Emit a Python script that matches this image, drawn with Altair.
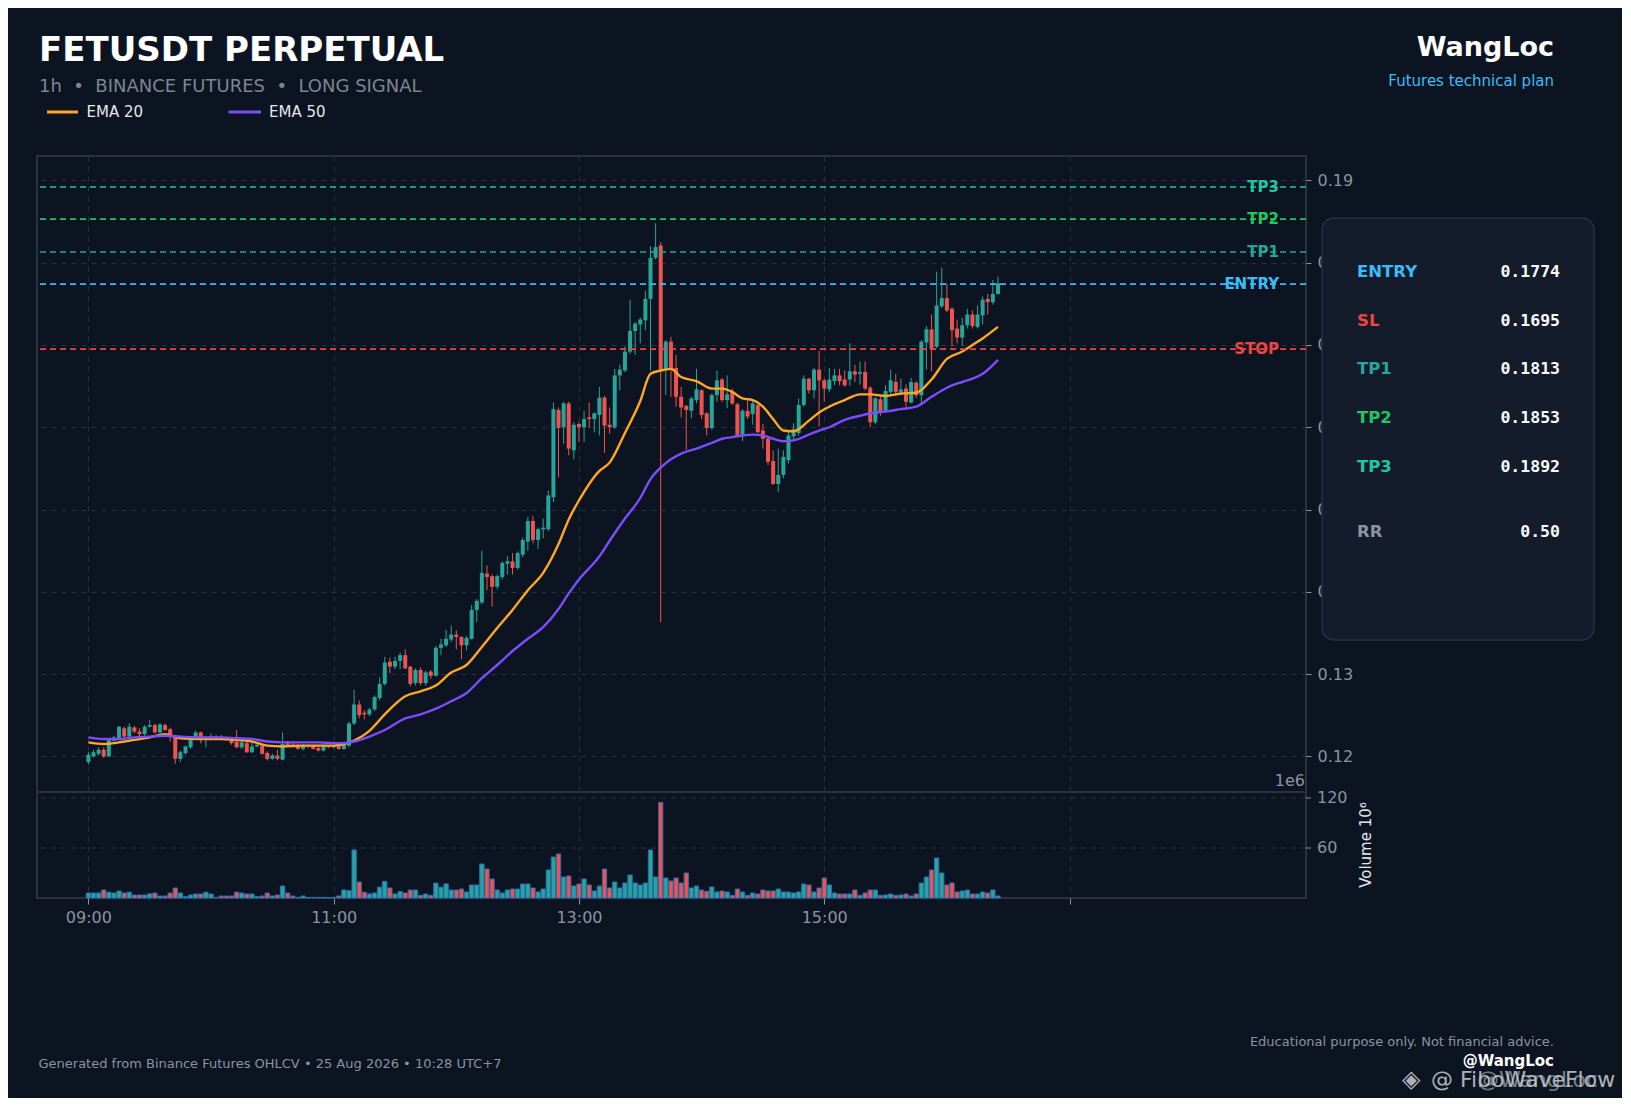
import altair as alt
import pandas as pd

# ---------------- data ----------------
OPEN = [
    .1193, .1200, .1203, .1208, .1200, .1219, .1222, .1234, .1224, .1235,
    .1230, .1227, .1236, .1238, .1229, .1238, .1233, .1225, .1197, .1204,
    .1211, .1222, .1229, .1220, .1222, .1224, .1223, .1223, .1222, .1218,
    .1211, .1216, .1205, .1212, .1213, .1204, .1197, .1201, .1196, .1216,
    .1214, .1213, .1209, .1213, .1213, .1210, .1207, .1212, .1211, .1212,
    .1209, .1213, .1240, .1263, .1253, .1251, .1257, .1271, .1288, .1315,
    .1309, .1316, .1323, .1309, .1289, .1305, .1289, .1303, .1298, .1332,
    .1335, .1342, .1348, .1345, .1335, .1343, .1378, .1387, .1422, .1419,
    .1406, .1418, .1434, .1437, .1429, .1445, .1461, .1486, .1463, .1476,
    .1476, .1515, .1621, .1600, .1629, .1572, .1604, .1600, .1612, .1610,
    .1615, .1636, .1603, .1600, .1663, .1669, .1692, .1717, .1725, .1730,
    .1756, .1806, .1821, .1670, .1704, .1672, .1637, .1626, .1620, .1633,
    .1645, .1617, .1599, .1639, .1658, .1633, .1643, .1628, .1591, .1620,
    .1616, .1627, .1596, .1586, .1559, .1531, .1542, .1560, .1589, .1593,
    .1627, .1659, .1645, .1670, .1657, .1646, .1656, .1663, .1658, .1658,
    .1668, .1665, .1667, .1648, .1606, .1634, .1620, .1643, .1655, .1643,
    .1647, .1630, .1654, .1639, .1703, .1719, .1698, .1747, .1757, .1744,
    .1720, .1709, .1724, .1737, .1722, .1736, .1756, .1752, .1762,
]
HIGH = [
    .1205, .1208, .1211, .1211, .1222, .1225, .1237, .1236, .1240, .1237,
    .1234, .1238, .1244, .1240, .1240, .1240, .1235, .1226, .1207, .1213,
    .1222, .1231, .1230, .1224, .1228, .1226, .1226, .1224, .1223, .1232,
    .1219, .1218, .1217, .1216, .1215, .1206, .1203, .1208, .1229, .1219,
    .1216, .1215, .1215, .1214, .1214, .1213, .1214, .1213, .1213, .1213,
    .1218, .1242, .1281, .1268, .1256, .1259, .1274, .1296, .1321, .1320,
    .1321, .1326, .1330, .1310, .1307, .1308, .1304, .1305, .1334, .1343,
    .1354, .1359, .1353, .1346, .1346, .1384, .1391, .1450, .1432, .1421,
    .1421, .1437, .1443, .1447, .1449, .1466, .1491, .1492, .1478, .1489,
    .1523, .1630, .1624, .1631, .1631, .1606, .1606, .1620, .1630, .1618,
    .1649, .1638, .1624, .1671, .1676, .1698, .1755, .1728, .1733, .1766,
    .1820, .1848, .1825, .1706, .1710, .1688, .1649, .1627, .1637, .1671,
    .1646, .1618, .1641, .1669, .1660, .1663, .1647, .1630, .1622, .1632,
    .1632, .1629, .1604, .1588, .1572, .1574, .1572, .1594, .1605, .1635,
    .1663, .1660, .1672, .1693, .1659, .1672, .1671, .1671, .1669, .1702,
    .1676, .1680, .1680, .1650, .1637, .1637, .1651, .1670, .1665, .1659,
    .1652, .1660, .1656, .1706, .1723, .1737, .1789, .1794, .1775, .1746,
    .1731, .1733, .1744, .1742, .1748, .1759, .1762, .1779, .1783,
]
LOW = [
    .1190, .1199, .1201, .1198, .1199, .1218, .1221, .1222, .1223, .1228,
    .1224, .1225, .1235, .1228, .1228, .1231, .1218, .1191, .1193, .1202,
    .1209, .1220, .1216, .1211, .1221, .1221, .1220, .1219, .1214, .1210,
    .1209, .1204, .1204, .1211, .1202, .1195, .1196, .1195, .1195, .1212,
    .1211, .1208, .1207, .1210, .1208, .1206, .1206, .1210, .1210, .1208,
    .1208, .1211, .1238, .1246, .1245, .1249, .1255, .1268, .1286, .1301,
    .1306, .1306, .1306, .1285, .1286, .1286, .1286, .1294, .1297, .1323,
    .1333, .1339, .1330, .1318, .1329, .1342, .1363, .1385, .1402, .1382,
    .1403, .1415, .1421, .1421, .1427, .1442, .1450, .1459, .1452, .1465,
    .1474, .1509, .1539, .1580, .1566, .1561, .1582, .1582, .1599, .1594,
    .1590, .1569, .1592, .1598, .1645, .1667, .1689, .1688, .1702, .1718,
    .1669, .1804, .1363, .1639, .1637, .1625, .1612, .1572, .1611, .1629,
    .1610, .1590, .1597, .1631, .1631, .1623, .1627, .1588, .1583, .1610,
    .1603, .1593, .1574, .1554, .1530, .1521, .1538, .1556, .1584, .1590,
    .1625, .1641, .1635, .1601, .1631, .1643, .1651, .1651, .1649, .1650,
    .1655, .1652, .1645, .1600, .1604, .1614, .1618, .1639, .1639, .1639,
    .1625, .1629, .1636, .1629, .1670, .1668, .1696, .1745, .1740, .1698,
    .1702, .1699, .1720, .1720, .1720, .1725, .1737, .1749, .1761,
]
CLOSE = [
    .1202, .1205, .1208, .1200, .1220, .1223, .1236, .1224, .1236, .1230,
    .1227, .1236, .1238, .1229, .1239, .1232, .1227, .1197, .1205, .1212,
    .1220, .1229, .1221, .1222, .1224, .1223, .1222, .1221, .1216, .1211,
    .1217, .1205, .1212, .1214, .1203, .1197, .1201, .1197, .1215, .1214,
    .1213, .1209, .1213, .1212, .1209, .1207, .1212, .1211, .1212, .1209,
    .1215, .1240, .1263, .1250, .1251, .1257, .1272, .1288, .1314, .1309,
    .1316, .1323, .1307, .1288, .1305, .1289, .1302, .1298, .1332, .1336,
    .1343, .1348, .1345, .1335, .1344, .1378, .1389, .1423, .1418, .1406,
    .1419, .1435, .1437, .1429, .1447, .1463, .1486, .1463, .1476, .1478,
    .1517, .1622, .1599, .1629, .1574, .1603, .1600, .1610, .1610, .1617,
    .1636, .1602, .1600, .1663, .1670, .1692, .1717, .1726, .1731, .1756,
    .1806, .1819, .1670, .1704, .1670, .1637, .1624, .1621, .1635, .1646,
    .1615, .1599, .1639, .1657, .1633, .1640, .1629, .1590, .1620, .1613,
    .1629, .1594, .1586, .1558, .1531, .1542, .1564, .1590, .1598, .1627,
    .1659, .1645, .1670, .1657, .1647, .1658, .1663, .1656, .1651, .1668,
    .1664, .1667, .1647, .1606, .1635, .1619, .1644, .1657, .1643, .1646,
    .1631, .1655, .1639, .1704, .1719, .1696, .1748, .1757, .1742, .1718,
    .1709, .1724, .1737, .1723, .1737, .1755, .1752, .1762, .1775,
]
VOLUME = [  # millions
    6, 6, 6, 9.6, 7, 6, 8.4, 6, 7, 3.6,
    3.6, 3.6, 5, 6, 2.4, 2.4, 6, 12, 6, 1.6,
    3.6, 4.8, 4.8, 7, 4.8, 0.8, 2.4, 2.4, 2.4, 7,
    6, 4.8, 4.8, 1.6, 2.4, 6, 2.4, 3.6, 14.4, 6,
    2.4, 0.8, 2.4, 0.8, 0.8, 0.8, 0.8, 0.3, 0.8, 2.4,
    9.6, 8.8, 57.6, 19.2, 7, 4.8, 6, 13, 20, 12,
    4.8, 7.6, 6, 9.6, 9.6, 3.2, 4.8, 3.2, 18, 13,
    17, 9.6, 9.6, 10.8, 7.2, 15.6, 15.6, 40.8, 34.8, 22.8,
    9.6, 6, 9.6, 10.8, 10.8, 16.8, 16.8, 12, 7.2, 10.8,
    33.6, 49.2, 52.8, 25.2, 26.4, 14.4, 16.8, 22.8, 15.6, 8.4,
    14.4, 34.8, 12, 19.2, 12, 18, 27.6, 18, 15.6, 18,
    57.6, 25.2, 114.8, 24, 20.4, 24, 18, 30, 12, 14.4,
    9.6, 8, 13.2, 7.2, 8.4, 7.2, 3.2, 10.8, 7.2, 3.2,
    6, 4.8, 9.6, 8.4, 8.4, 10.8, 7.2, 7.2, 6, 7.2,
    16.8, 15.6, 7.2, 12, 24, 15.6, 6, 4.8, 4.8, 4.8,
    9.6, 3.2, 6, 9.6, 9.6, 3.2, 3.6, 4.8, 3.2, 3.6,
    4.8, 2.4, 4.8, 18, 25.2, 33.6, 48, 30, 15.6, 18,
    7.2, 8.4, 9.6, 4.8, 4.8, 7.2, 6, 9.6, 2.4,
]
EMA_IDX = [0, 3, 6, 9, 12, 15, 18, 22, 26, 29,
           32, 35, 38, 42, 45, 48, 50, 52, 55, 58,
           62, 65, 68, 71, 74, 77, 80, 83, 86, 89,
           92, 94, 96, 100, 102, 105, 108, 110, 112, 114,
           116, 119, 122, 124, 126, 128, 130, 132, 134, 136,
           138, 141, 143, 145, 148, 151, 153, 156, 159, 162,
           165, 168, 171, 173, 175, 178]
EMA20 = [.1217, .1215, .1217, .1220, .1223, .1227, .1222, .1221, .1221, .1220,
         .1218, .1213, .1212, .1213, .1213, .1213, .1215, .1219, .1231, .1251,
         .1273, .1279, .1286, .1302, .1311, .1333, .1356, .1378, .1402, .1423,
         .1458, .1488, .1511, .1547, .1557, .1593, .1632, .1665, .1669, .1671,
         .1661, .1656, .1647, .1647, .1643, .1635, .1633, .1625, .1610, .1596,
         .1595, .1608, .1618, .1625, .1633, .1640, .1640, .1638, .1641, .1642,
         .1658, .1683, .1692, .1700, .1708, .1722]
EMA50 = [.1223, .1221, .1221, .1223, .1224, .1225, .1224, .1223, .1223, .1222,
         .1221, .1218, .1217, .1217, .1217, .1216, .1216, .1218, .1224, .1232,
         .1246, .1251, .1258, .1267, .1277, .1295, .1311, .1328, .1343, .1357,
         .1379, .1398, .1415, .1443, .1462, .1489, .1514, .1537, .1551, .1561,
         .1568, .1574, .1581, .1586, .1588, .1590, .1591, .1590, .1586, .1583,
         .1584, .1591, .1596, .1600, .1609, .1614, .1617, .1619, .1622, .1625,
         .1637, .1648, .1655, .1659, .1665, .1682]

X_TICKS = [0, 48, 96, 144, 192]
X_TICK_LABELS = ["09:00", "11:00", "13:00", "15:00", ""]
PRICE_TICKS = [0.12, 0.13, 0.14, 0.15, 0.16, 0.17, 0.18, 0.19]
VOL_TICKS = [60, 120]

LEVEL_NAMES = ["TP3", "TP2", "TP1", "ENTRY", "STOP"]
LEVEL_PRICES = [0.1892, 0.1853, 0.1813, 0.1774, 0.1695]
LEVEL_COLORS = ["#1fc8a0", "#22c55e", "#26a69a", "#38bdf8", "#ef4444"]

PANEL_LABELS = ["ENTRY", "SL", "TP1", "TP2", "TP3", "RR"]
PANEL_VALUES = ["0.1774", "0.1695", "0.1813", "0.1853", "0.1892", "0.50"]
PANEL_COLORS = ["#38bdf8", "#ef4444", "#26a69a", "#22c55e", "#1fc8a0", "#8b93a1"]

NB = "\u00a0"
TITLE = "FETUSDT PERPETUAL"
SUBTITLE = f"1h{NB}{NB}\u2022{NB}{NB}BINANCE FUTURES{NB}{NB}\u2022{NB}{NB}LONG SIGNAL"
BRAND = "WangLoc"
BRAND_SUB = "Futures technical plan"
FOOT_LEFT = "Generated from Binance Futures OHLCV \u2022 25 Aug 2026 \u2022 10:28 UTC+7"
FOOT_RIGHT = "Educational purpose only. Not financial advice."
FOOT_HANDLE = "@WangLoc"

# ---------------- style ----------------
BG = "#0d1421"
GRID = "#253041"
FRAME = "#2b323e"
LABEL = "#8b93a1"
TEAL = "#26a69a"
RED = "#ef5350"
ORANGE = "#ffa726"
PURPLE = "#7c4dff"
FONT = "DejaVu Sans"

W, H = 1269, 742
PAD = {"left": 29, "top": 148, "right": 316, "bottom": 200}

xs = alt.Scale(domain=[-10.06, 238.28], nice=False, zero=False, padding=0)
ps = alt.Scale(domain=[0.10278, 0.19297], nice=False, zero=False, padding=0)
vs = alt.Scale(domain=[0, 890.4], nice=False, zero=True, padding=0)

label_expr = " : ".join(
    f"datum.value == {v} ? '{l}'" for v, l in zip(X_TICKS, X_TICK_LABELS)
) + " : ''"
x_axis = alt.Axis(values=X_TICKS, labelExpr=label_expr, title=None, grid=True,
                  gridColor=GRID, gridDash=[5, 5], gridWidth=1, domain=False,
                  tickColor=LABEL, tickSize=6, labelColor=LABEL, labelFontSize=16,
                  labelFont=FONT, labelPadding=5, zindex=0)
p_axis = alt.Axis(orient="right", values=PRICE_TICKS, format=".2f", title=None,
                  grid=True, gridColor=GRID, gridDash=[5, 5], gridWidth=1,
                  domain=False, tickColor=LABEL, tickSize=5, labelColor=LABEL,
                  labelFontSize=16, labelFont=FONT, labelPadding=6, zindex=0)

X = alt.X("i:Q", scale=xs, axis=x_axis)

df = pd.DataFrame({"i": list(range(len(CLOSE))), "o": OPEN, "h": HIGH,
                   "l": LOW, "c": CLOSE, "v": VOLUME})
df["col"] = [TEAL if c >= o else RED for o, c in zip(OPEN, CLOSE)]
ema = pd.DataFrame({"i": EMA_IDX, "e20": EMA20, "e50": EMA50})
levels = pd.DataFrame({"name": LEVEL_NAMES, "price": LEVEL_PRICES, "col": LEVEL_COLORS})
vticks = pd.DataFrame({"v": VOL_TICKS})
one = pd.DataFrame({"k": [0]})

# ---------------- price layers ----------------
wick = alt.Chart(df).mark_rule(strokeWidth=1).encode(
    x=X, y=alt.Y("l:Q", scale=ps, axis=p_axis), y2="h:Q",
    color=alt.Color("col:N", scale=None))
body = alt.Chart(df).mark_bar(size=4.0).encode(
    x=X, y=alt.Y("o:Q", scale=ps, axis=p_axis), y2="c:Q",
    color=alt.Color("col:N", scale=None))
e20 = alt.Chart(ema).mark_line(color=ORANGE, strokeWidth=2.4, interpolate="monotone").encode(
    x=X, y=alt.Y("e20:Q", scale=ps, axis=p_axis))
e50 = alt.Chart(ema).mark_line(color=PURPLE, strokeWidth=2.4, interpolate="monotone").encode(
    x=X, y=alt.Y("e50:Q", scale=ps, axis=p_axis))
lvl_text = alt.Chart(levels).mark_text(align="right", baseline="middle", fontSize=15,
                                       fontWeight="bold", font=FONT).encode(
    x=alt.value(1242), y=alt.Y("price:Q", scale=ps, axis=p_axis), text="name:N",
    color=alt.Color("col:N", scale=None))
lvl_rule = alt.Chart(levels).mark_rule(strokeDash=[6, 4], strokeWidth=1.6).encode(
    y=alt.Y("price:Q", scale=ps, axis=p_axis), color=alt.Color("col:N", scale=None))
price = alt.layer(wick, body, e20, e50, lvl_text, lvl_rule)

# ---------------- volume layers ----------------
VY = alt.Y("v:Q", scale=vs, axis=None, stack=None)
vgrid = alt.Chart(vticks).mark_rule(color=GRID, strokeDash=[5, 5], strokeWidth=1).encode(y=VY)
vbars = alt.Chart(df).mark_bar(size=4.3, stroke="#2d6cb3", strokeWidth=1).encode(
    x=X, y=VY, color=alt.Color("col:N", scale=None))
vtick = alt.Chart(vticks).mark_rule(color=LABEL).encode(
    x=alt.value(W), x2=alt.value(W + 5), y=VY)
vlab = alt.Chart(vticks).mark_text(align="left", baseline="middle", fontSize=16,
                                   font=FONT, color=LABEL).encode(
    x=alt.value(W + 11), y=VY, text=alt.Text("v:Q", format="d"))
volume = alt.layer(vgrid, vbars, vtick, vlab)


# ---------------- decorations ----------------
def txt(text, x, y, size, color, weight="normal", align="left", baseline="alphabetic",
        font=FONT, angle=0, opacity=1.0):
    kw = dict(text=text, fontSize=size, color=color, fontWeight=weight, align=align,
              baseline=baseline, font=font, opacity=opacity)
    if angle:
        kw["angle"] = angle
    return alt.Chart(one).mark_text(**kw).encode(x=alt.value(x), y=alt.value(y))


def seg(x1, x2, y, color, width):
    return alt.Chart(one).mark_rule(color=color, strokeWidth=width).encode(
        x=alt.value(x1), x2=alt.value(x2), y=alt.value(y))


deco = [
    seg(0, W, 636, FRAME, 2),
    txt("1e6", W - 1, 625, 16, LABEL, align="right", baseline="middle"),
    txt("Volume  10\u2076", 1329, 689, 15, "#e5e7eb", align="center", baseline="middle", angle=270),
    alt.Chart(one).mark_rect(fill="#141b2b", stroke="#283142", strokeWidth=1.5,
                             cornerRadius=12).encode(
        x=alt.value(1285), x2=alt.value(1557), y=alt.value(62), y2=alt.value(484)),
    txt(TITLE, 2, -95, 34, "#ffffff", weight="bold"),
    txt(SUBTITLE, 2, -64, 18, "#7d8594"),
    seg(10, 41, -44, ORANGE, 3),
    txt("EMA 20", 49.5, -39, 15, "#e5e7eb"),
    seg(191.5, 224, -44, PURPLE, 3),
    txt("EMA 50", 232, -39, 15, "#e5e7eb"),
    txt(BRAND, 1517, -100, 27, "#ffffff", weight="bold", align="right"),
    txt(BRAND_SUB, 1517, -70.5, 15, "#38bdf8", align="right"),
    txt(FOOT_RIGHT, 1517, 890, 13, LABEL, align="right"),
    txt(FOOT_LEFT, 1.5, 912, 13, LABEL),
    txt("\u25c8", 1365, 931, 24, "#c9cdd3", opacity=0.85),
    txt("@ FiboWaveFlow", 1394, 931, 22, "#c9cdd3", opacity=0.85),
    txt("@WangLoc", 1440, 931, 22, "#c9cdd3", opacity=0.55),
    txt(FOOT_HANDLE, 1517, 910, 15, "#ffffff", weight="bold", align="right"),
]
row_y = [121.3, 170.0, 218.3, 267.3, 316.0, 380.7]
for lab, val, col, yy in zip(PANEL_LABELS, PANEL_VALUES, PANEL_COLORS, row_y):
    deco.append(txt(lab, 1320, yy, 16.5, col, weight="bold"))
    deco.append(txt(val, 1523, yy, 16.5, "#f8fafc", weight="bold", align="right",
                    font="DejaVu Sans Mono"))

chart = alt.layer(volume, price, *deco).resolve_scale(y="independent").properties(
    width=W, height=H, padding=PAD, autosize=alt.AutoSizeParams(type="none"),
    background=BG,
).configure(font=FONT).configure_view(stroke=FRAME, strokeWidth=2)

chart.save("out.html", embed_options={"renderer": "svg", "actions": False})
